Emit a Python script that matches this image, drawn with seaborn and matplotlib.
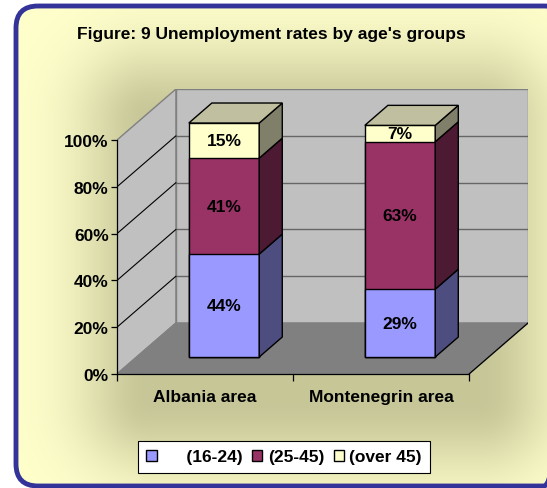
import numpy as np
import pandas as pd
import seaborn as sns
import matplotlib.pyplot as plt
from matplotlib.patches import Polygon, FancyBboxPatch, Patch
from matplotlib.transforms import Affine2D

areas = ["Albania area", "Montenegrin area"]
groups = ["(16-24)", "(25-45)", "(over 45)"]
young = [44, 29]
middle = [41, 63]
older = [15, 7]
yticks = [0, 20, 40, 60, 80, 100]

front_colors = ["#9999FF", "#993366", "#FFFFCC"]
side_colors = ["#4D4D80", "#4D1A33", "#80806A"]
top_color = "#C0C0A0"

sns.set_style("white")
plt.rcParams["font.family"] = ["Liberation Sans", "DejaVu Sans"]
plt.rcParams["font.weight"] = "bold"
for k in ["text.color", "axes.labelcolor", "xtick.color", "ytick.color"]:
    plt.rcParams[k] = "black"

W, H = 547, 489
fig = plt.figure(figsize=(W / 100, H / 100), dpi=100)
fig.patch.set_facecolor("white")

# background panel: yellow fill, soft shading round the plot, blue rounded border
bg = fig.add_axes([0, 0, 1, 1], zorder=0)
bg.axis("off")
box = dict(boxstyle="round,pad=0,rounding_size=22")
panel = FancyBboxPatch((16, 7), 550, 480, fc="#FFFFCC", ec="none", **box)
bg.add_patch(panel)
yy, xx = np.mgrid[0:H, 0:W]
ddx = np.clip(np.maximum(150 - xx, xx - 480), 0, None)
ddy = np.clip(np.maximum(120 - yy, yy - 400), 0, None)
shade = np.exp(-(ddx ** 2 + ddy ** 2) / (2 * 50 ** 2))
rgba = np.zeros((H, W, 4))
rgba[..., :3] = np.array([196, 196, 150]) / 255
rgba[..., 3] = 0.95 * shade
im = bg.imshow(rgba, extent=(0, W, H, 0), zorder=1, aspect="auto")
im.set_clip_path(panel)
border = FancyBboxPatch((16, 7), 550, 480, fc="none", ec="#333399", lw=3.5,
                        zorder=2, **box)
bg.add_patch(border)
border.set_clip_on(False)
bg.set_xlim(0, W)
bg.set_ylim(H, 0)

DX, DY = 0.335, 21.8    # depth of the 3d box (data units)
FX, FY = 0.108, 7.26    # shift of the bar fronts
BX, BY = 0.131, 8.55    # depth of the bars
bw = 0.4

ax = fig.add_axes([117 / W, 1 - 375 / H, 411 / W, 285 / H], zorder=1)
ax.patch.set_alpha(0)

left_wall = [(-0.5, 0), (-0.5 + DX, DY), (-0.5 + DX, 100 + DY), (-0.5, 100)]
back_wall = [(-0.5 + DX, DY), (1.5 + DX, DY), (1.5 + DX, 100 + DY), (-0.5 + DX, 100 + DY)]
floor = [(-0.5, 0), (1.5, 0), (1.5 + DX, DY), (-0.5 + DX, DY)]
ax.add_patch(Polygon(left_wall, fc="#C0C0C0", ec="#808080", lw=1, zorder=0))
ax.add_patch(Polygon(back_wall, fc="#C0C0C0", ec="#808080", lw=1, zorder=0))
ax.add_patch(Polygon(floor, fc="#808080", ec="#808080", lw=1, zorder=0))
ax.plot([1.5, 1.5 + DX], [0, DY], color="black", lw=0.9, zorder=1)
for v in yticks[1:-1]:
    ax.plot([-0.5 + DX, 1.5 + DX], [v + DY, v + DY], color="#666666", lw=1, zorder=1)
    ax.plot([-0.5, -0.5 + DX], [v, v + DY], color="black", lw=0.8, zorder=1)

df = pd.DataFrame({"area": areas * 3,
                   "group": np.repeat(groups, 2),
                   "value": young + middle + older})
df["top"] = df.groupby("area")["value"].cumsum()
df["bottom"] = df["top"] - df["value"]

# stacked fronts: tallest first, then overdraw
for g, fc in reversed(list(zip(groups, front_colors))):
    n = len(ax.patches)
    sns.barplot(data=df[df.group == g], x="area", y="top", order=areas, color=fc,
                saturation=1, width=bw, edgecolor="black", linewidth=1,
                errorbar=None, ax=ax, zorder=3)
    for p in ax.patches[n:]:
        p.set_transform(Affine2D().translate(FX, FY) + ax.transData)

for _, r in df.iterrows():
    i = areas.index(r["area"])
    k = groups.index(r["group"])
    x0 = i + bw / 2 + FX
    b, t = r["bottom"] + FY, r["top"] + FY
    side = [(x0, b), (x0 + BX, b + BY), (x0 + BX, t + BY), (x0, t)]
    ax.add_patch(Polygon(side, fc=side_colors[k], ec="black", lw=1, zorder=3))
    if k == len(groups) - 1:
        xl = i - bw / 2 + FX
        top = [(xl, t), (x0, t), (x0 + BX, t + BY), (xl + BX, t + BY)]
        ax.add_patch(Polygon(top, fc=top_color, ec="black", lw=1, zorder=3))
    ax.text(i + FX, (b + t) / 2, f"{r['value']}%", ha="center", va="center",
            fontsize=12.5, fontweight="bold", color="black", zorder=4)

ax.set_xlim(-0.5, 1.5 + DX)
ax.set_ylim(0, 100 + DY)
ax.set_xlabel("")
ax.set_ylabel("")
for s in ["top", "right"]:
    ax.spines[s].set_visible(False)
ax.spines["left"].set_bounds(0, 100)
ax.spines["bottom"].set_bounds(-0.5, 1.5)
for s in ["left", "bottom"]:
    ax.spines[s].set_color("black")
    ax.spines[s].set_linewidth(0.9)
    ax.spines[s].set_zorder(2)
ax.set_yticks(yticks)
ax.set_yticklabels([f"{v}%" for v in yticks], fontsize=12.5, fontweight="bold")
ax.set_xticks([0, 1])
ax.set_xticklabels(areas, fontsize=12.5, fontweight="bold")
ax.set_xticks([-0.5, 0.5, 1.5], minor=True)
ax.tick_params(axis="y", left=True, length=4, width=0.9, pad=2, colors="black")
ax.tick_params(axis="x", which="major", bottom=True, length=0, pad=11, colors="black")
ax.tick_params(axis="x", which="minor", bottom=True, length=5, width=0.9, color="black")
ax.grid(False)

fig.text(271 / W, 1 - 34 / H, "Figure: 9 Unemployment rates by age's groups",
         ha="center", va="center", fontsize=12.5, fontweight="bold", color="black")

handles = [Patch(fc=c, ec="black", lw=1) for c in front_colors]
labels = ["     " + groups[0], groups[1], groups[2]]
leg = fig.legend(handles, labels, ncol=3, loc="center",
                 bbox_to_anchor=(284 / W, 1 - 458 / H), frameon=True, fancybox=False,
                 edgecolor="black", framealpha=1, fontsize=12.5, labelcolor="black",
                 handlelength=0.6, handleheight=0.6, handletextpad=0.3,
                 columnspacing=0.55, borderpad=0.5, borderaxespad=0)
leg.get_frame().set_linewidth(0.8)

fig.savefig("out.png", dpi=100)
